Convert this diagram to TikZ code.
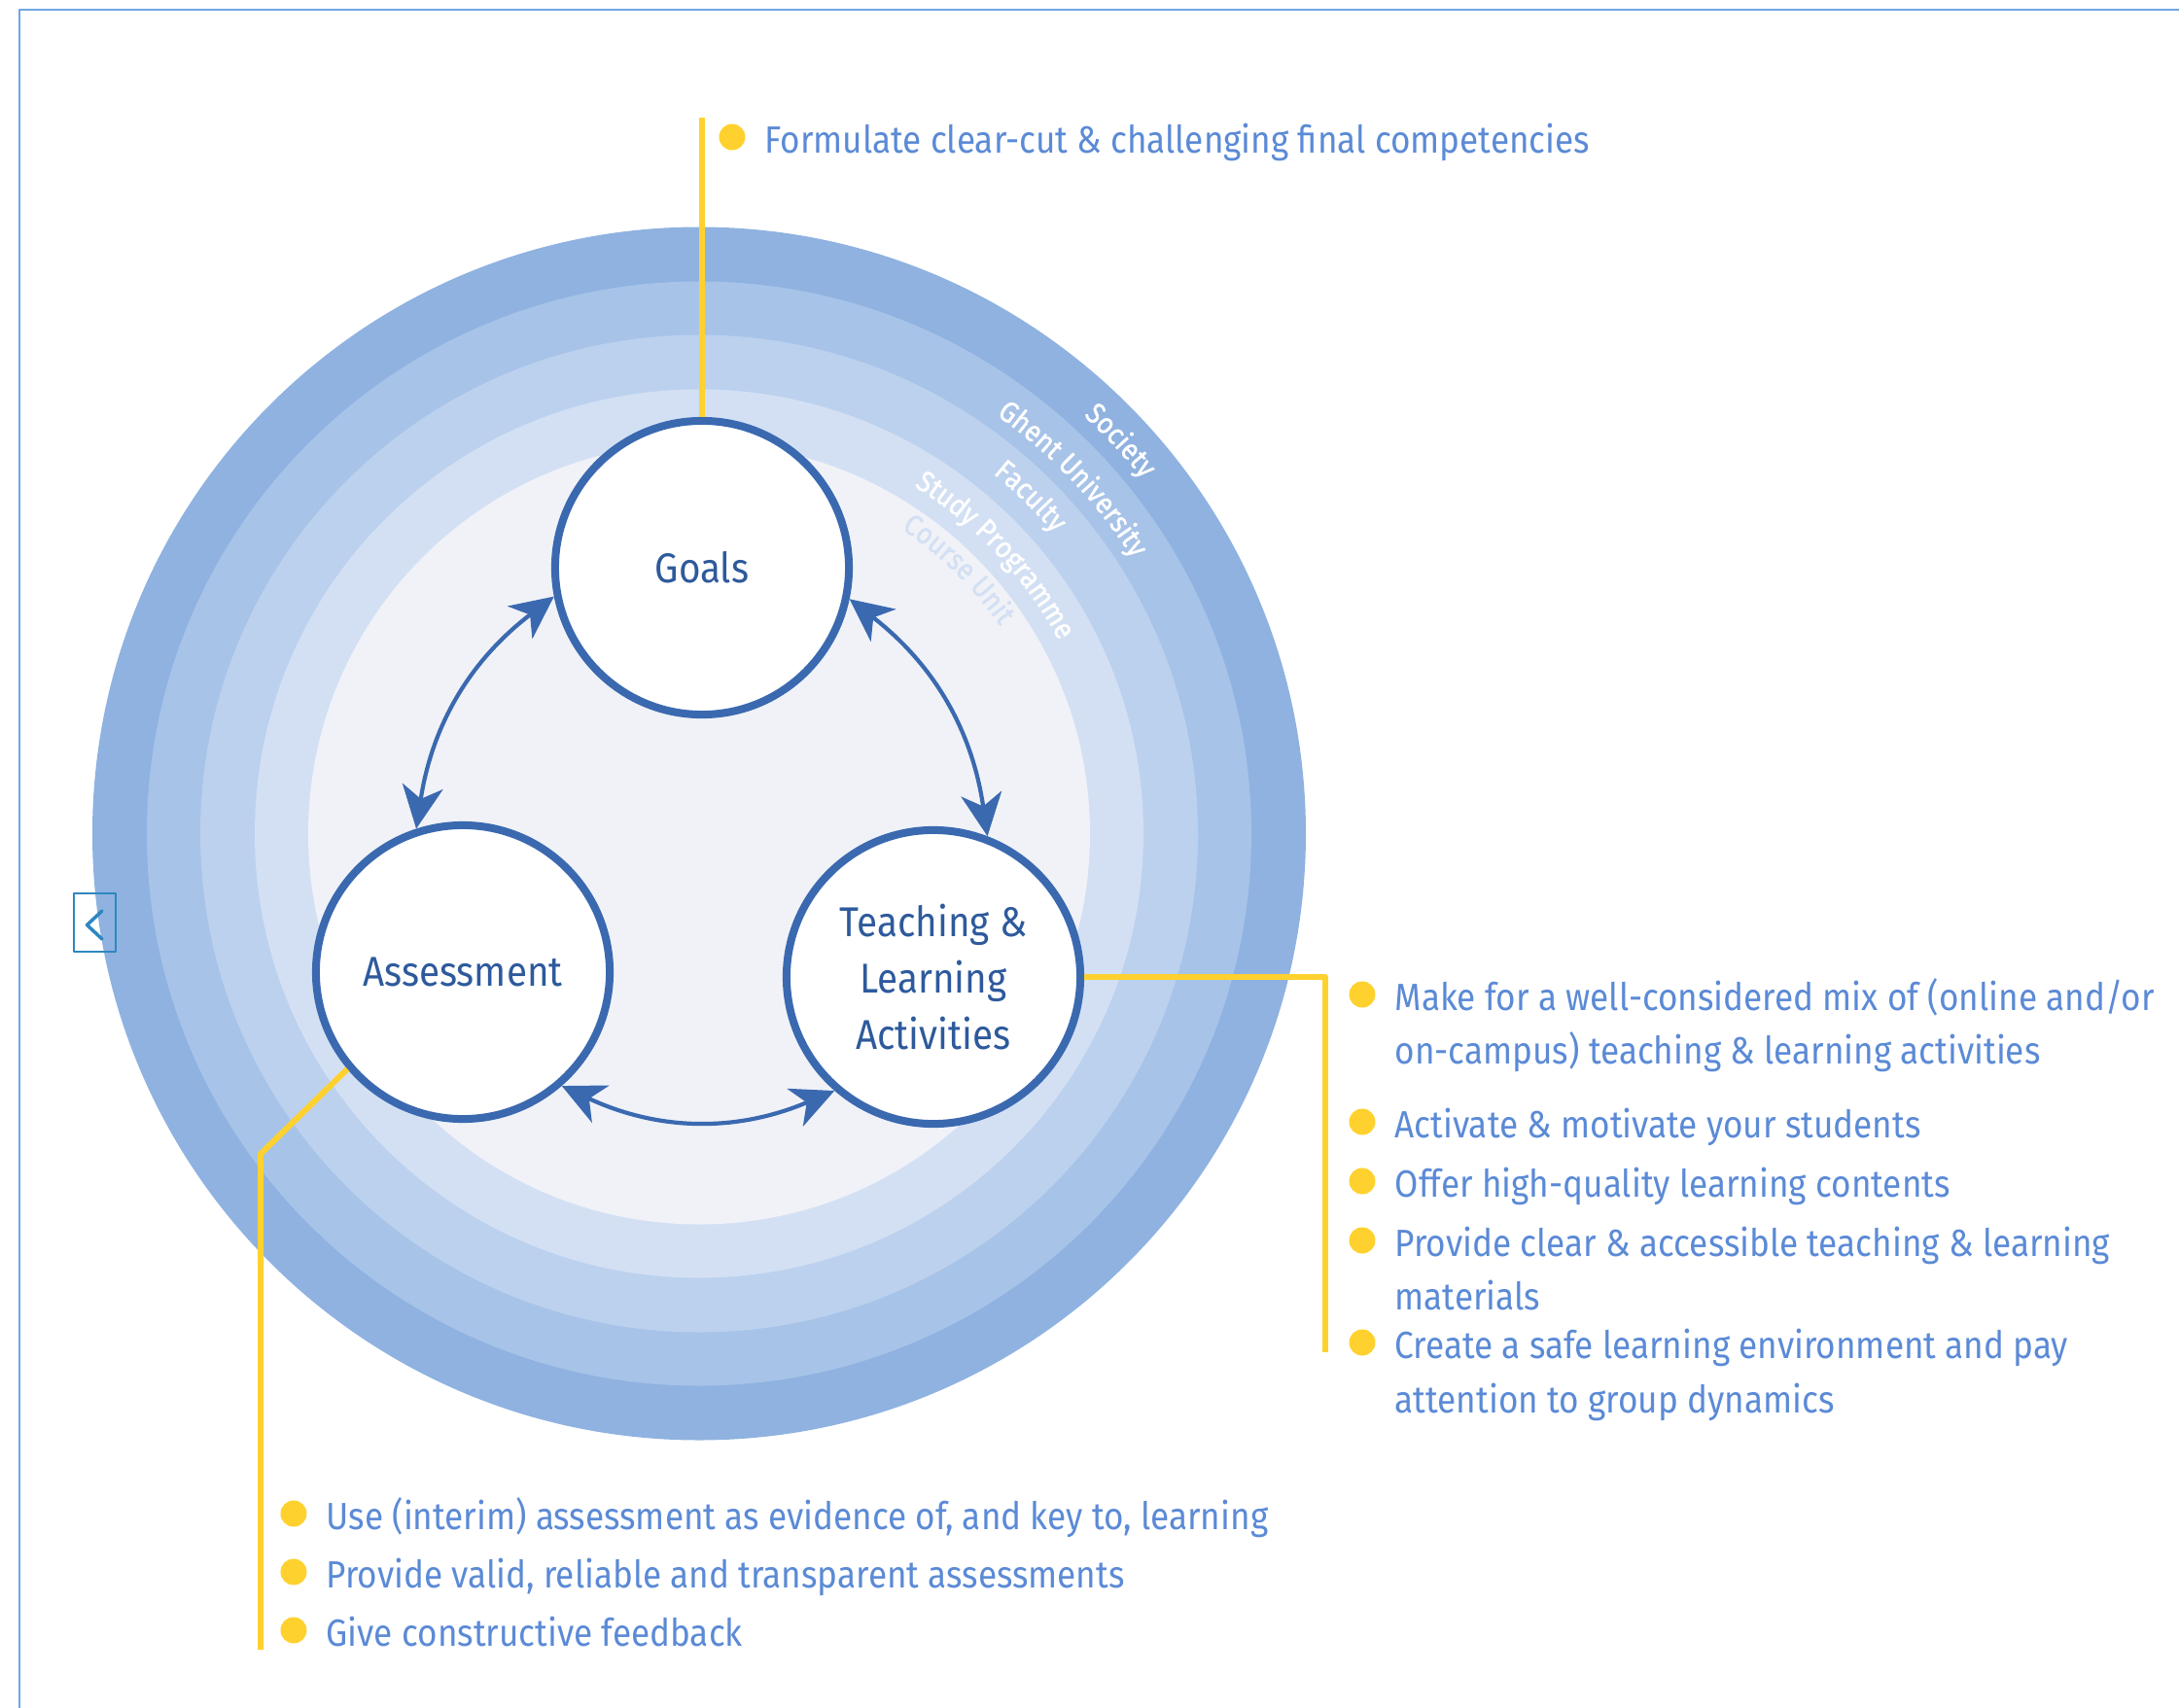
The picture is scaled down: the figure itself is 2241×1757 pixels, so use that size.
\documentclass[tikz,border=0pt]{standalone}
\usepackage{fontspec}
\setmainfont[FakeStretch=0.9]{Fira Sans}
\newfontfamily\ringfont[FakeStretch=0.9,FakeBold=1.2]{Fira Sans}
\usetikzlibrary{arrows.meta,decorations.text}
\definecolor{ringa}{HTML}{8FB2E0}
\definecolor{ringb}{HTML}{A7C3E8}
\definecolor{ringc}{HTML}{BCD1EE}
\definecolor{ringd}{HTML}{D3E0F4}
\definecolor{ringe}{HTML}{F0F2F7}
\definecolor{ugblue}{HTML}{3A69B0}
\definecolor{ugdark}{HTML}{2E5A9C}
\definecolor{ugtext}{HTML}{5B8AD6}
\definecolor{ugyel}{HTML}{FFD12E}
\definecolor{ugframe}{HTML}{6FA6E6}
\begin{document}
\begin{tikzpicture}[x=0.01cm,y=-0.01cm,line join=round,line cap=round,
	circ/.style={circle,draw=ugblue,line width=0.08cm,fill=white,minimum size=3.02cm,inner sep=0pt,align=center,text=ugdark,font=\fontsize{12.2}{16.5}\selectfont},
	lst/.style={anchor=base west,inner sep=0pt,text=ugtext,font=\fontsize{11.1}{12}\selectfont},
	yel/.style={draw=ugyel,line width=0.06cm,line cap=butt},
	arr/.style={draw=ugblue,line width=0.042cm,{Stealth[length=0.44cm,width=0.42cm,inset=0.13cm]}-{Stealth[length=0.44cm,width=0.42cm,inset=0.13cm]}},
	ring/.style={decorate,decoration={text along path,text align=center,text color=#1}},
	rfont/.style={decoration={text={|\ringfont\fontsize{8.6}{10}\selectfont|#1}}}]
	\useasboundingbox (0,0) rectangle (2241,1757);
	\draw[ugframe,line width=0.028cm,line cap=butt] (20,1757)--(20,10)--(2241,10);
	%rings
	\fill[ringa] (719,857.5) circle[radius=624];
	\fill[ringb] (719,857.5) circle[radius=568];
	\fill[ringc] (719,857.5) circle[radius=513];
	\fill[ringd] (719,857.5) circle[radius=457];
	\fill[ringe] (719,857.5) circle[radius=402];
	\path[rfont=Society,ring=white] (719,857.5) ++(-68:584) arc[start angle=-68,end angle=-18,radius=584];
	\path[rfont=Ghent University,ring=white] (719,857.5) ++(-68.5:528) arc[start angle=-68.5,end angle=-18.5,radius=528];
	\path[rfont=Faculty,ring=white] (719,857.5) ++(-70.5:478) arc[start angle=-70.5,end angle=-20.5,radius=478];
	\path[rfont=Study Programme,ring=white] (719,857.5) ++(-68.2:420) arc[start angle=-68.2,end angle=-18.2,radius=420];
	\path[rfont=Course Unit,ring=ringd] (719,857.5) ++(-70.5:376) arc[start angle=-70.5,end angle=-20.5,radius=376];
	%left button
	\draw[ugblue!80!cyan,line width=0.02cm] (76,919) rectangle (119,979);
	\draw[ugblue!80!cyan,line width=0.035cm] (105,937)--(89.5,951.5)--(105,966);
	%circles
	\node[circ] (goals) at (722,584) {Goals};
	\node[circ] (assess) at (476,1000) {Assessment};
	\node[circ] (teach) at (960,1005) {Teaching \&\\Learning\\Activities};
	\draw[arr] (goals.191) to[bend right=22] (assess.108);
	\draw[arr] (goals.348) to[bend left=22] (teach.69);
	\draw[arr] (assess.-49) to[bend right=24] (teach.229);
	%lists
	\node[lst] (g1) at (786,157) {Formulate clear-cut \& challenging final competencies};
	\node[lst] (t1) at (1434,1039) {Make for a well-considered mix of (online and/or};
	\node[lst] (t1b) at (1434,1094) {on-campus) teaching \& learning activities};
	\node[lst] (t2) at (1434,1170) {Activate \& motivate your students};
	\node[lst] (t3) at (1434,1231) {Offer high-quality learning contents};
	\node[lst] (t4) at (1434,1292) {Provide clear \& accessible teaching \& learning};
	\node[lst] (t4b) at (1434,1347) {materials};
	\node[lst] (t5) at (1434,1397) {Create a safe learning environment and pay};
	\node[lst] (t5b) at (1434,1453) {attention to group dynamics};
	\node[lst] (a1) at (335,1573) {Use (interim) assessment as evidence of, and key to, learning};
	\node[lst] (a2) at (335,1633) {Provide valid, reliable and transparent assessments};
	\node[lst] (a3) at (335,1693) {Give constructive feedback};
	\foreach \n in {g1,t1,t2,t3,t4,t5,a1,a2,a3}
		\fill[ugyel] ([xshift=-0.33cm,yshift=0.16cm]\n.base west) circle (0.135cm);
	%yellow connectors
	\coordinate (gend) at (722,121);
	\coordinate (tc) at (1363,1005);
	\coordinate (tend) at (1363,1391);
	\coordinate (ac) at (268,1187);
	\coordinate (aend) at (268,1697);
	\draw[yel] (goals.north)--(gend);
	\draw[yel] (teach.east)--(tc)--(tend);
	\draw[yel] (assess.220)--(ac)--(aend);
\end{tikzpicture}
\end{document}
